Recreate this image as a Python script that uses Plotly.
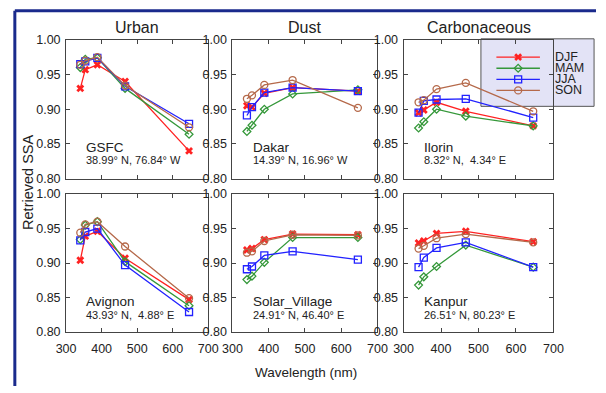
import plotly.graph_objects as go

# ---------------- data ----------------
WAVELENGTH = [340, 354, 388, 466, 646]
SEASONS = ["DJF", "MAM", "JJA", "SON"]
TYPES = ["Urban", "Dust", "Carbonaceous"]

GSFC = {"DJF": [0.930, 0.957, 0.964, 0.940, 0.840],
        "MAM": [0.960, 0.972, 0.974, 0.930, 0.864],
        "JJA": [0.965, 0.969, 0.974, 0.933, 0.879],
        "SON": [0.964, 0.970, 0.975, 0.934, 0.874]}
AVIGNON = {"DJF": [0.904, 0.939, 0.946, 0.907, 0.847],
           "MAM": [0.934, 0.955, 0.960, 0.902, 0.838],
           "JJA": [0.933, 0.945, 0.950, 0.897, 0.829],
           "SON": [0.944, 0.956, 0.960, 0.924, 0.849]}
DAKAR = {"DJF": [0.905, 0.903, 0.923, 0.931, 0.926],
         "MAM": [0.868, 0.877, 0.900, 0.922, 0.928],
         "JJA": [0.891, 0.903, 0.924, 0.931, 0.926],
         "SON": [0.915, 0.920, 0.935, 0.942, 0.902]}
SOLAR_VILLAGE = {"DJF": [0.919, 0.921, 0.934, 0.942, 0.941],
                 "MAM": [0.876, 0.881, 0.901, 0.937, 0.937],
                 "JJA": [0.891, 0.895, 0.911, 0.917, 0.905],
                 "SON": [0.915, 0.917, 0.932, 0.941, 0.940]}
ILORIN = {"DJF": [0.895, 0.899, 0.910, 0.897, 0.876],
          "MAM": [0.873, 0.882, 0.900, 0.890, 0.876],
          "JJA": [0.895, 0.912, 0.914, 0.915, 0.888],
          "SON": [0.910, 0.913, 0.929, 0.938, 0.897]}
KANPUR = {"DJF": [0.929, 0.932, 0.943, 0.946, 0.931],
          "MAM": [0.868, 0.880, 0.895, 0.926, 0.894],
          "JJA": [0.894, 0.908, 0.922, 0.930, 0.894],
          "SON": [0.921, 0.925, 0.936, 0.942, 0.930]}

SITE_NAMES = [["GSFC", "Dakar", "Ilorin"], ["Avignon", "Solar_Village", "Kanpur"]]
SITE_COORDS = [["38.99° N, 76.84° W", "14.39° N, 16.96° W", "8.32° N,\u00a0 4.34° E"],
               ["43.93° N,\u00a0 4.88° E", "24.91° N, 46.40° E", "26.51° N, 80.23° E"]]
SITE_DATA = [[GSFC, DAKAR, ILORIN], [AVIGNON, SOLAR_VILLAGE, KANPUR]]

X_TICKS = [300, 400, 500, 600, 700]
Y_TICKS = [0.80, 0.85, 0.90, 0.95, 1.00]

# ---------------- style ----------------
W, H = 606, 393
COLORS = {"DJF": "#ff2222", "MAM": "#35983a", "JJA": "#2222ff", "SON": "#b5694a"}
SYMBOLS = {"DJF": "x", "MAM": "diamond-open", "JJA": "square-open", "SON": "circle-open"}
SIZES = {"DJF": 7, "MAM": 6, "JJA": 7, "SON": 7}
FONT = "Liberation Sans, Arial, Helvetica, sans-serif"
AXC = "#444444"

COLS = [(58, 205), (230, 380), (407, 562)]
ROWS = [(34, 178), (194, 337)]


def px(x):
    return x / W


def py(y):
    return 1 - y / H


fig = go.Figure()
layout = dict(width=W, height=H, margin=dict(l=0, r=0, t=0, b=0),
              paper_bgcolor="white", plot_bgcolor="rgba(0,0,0,0)",
              showlegend=False, font=dict(family=FONT, color="#222"))
annotations = []
shapes = []

idx = 0
for r, (y0, y1) in enumerate(ROWS):
    for c, (x0, x1) in enumerate(COLS):
        idx += 1
        xa = "xaxis" if idx == 1 else f"xaxis{idx}"
        ya = "yaxis" if idx == 1 else f"yaxis{idx}"
        xr = "x" if idx == 1 else f"x{idx}"
        yr = "y" if idx == 1 else f"y{idx}"
        layout[xa] = dict(domain=[px(x0), px(x1)], range=[300, 700], tickvals=X_TICKS,
                          ticks="inside", ticklen=4, tickcolor=AXC, showline=True,
                          linecolor=AXC, linewidth=1, mirror="ticks", showgrid=False,
                          zeroline=False, anchor=yr, showticklabels=(r == 1),
                          tickfont=dict(size=12.5, color="#222"), ticklabelstandoff=5)
        layout[ya] = dict(domain=[py(y1), py(y0)], range=[0.80, 1.00], tickvals=Y_TICKS,
                          tickformat=".2f", ticks="inside", ticklen=4, tickcolor=AXC,
                          showline=True, linecolor=AXC, linewidth=1, mirror="ticks",
                          showgrid=False, zeroline=False, anchor=xr,
                          tickfont=dict(size=12.5, color="#222"), ticklabelstandoff=2)
        data = SITE_DATA[r][c]
        for s in SEASONS:
            fig.add_trace(go.Scatter(
                x=WAVELENGTH, y=data[s], xaxis=xr, yaxis=yr, mode="lines+markers",
                line=dict(color=COLORS[s], width=1.3),
                marker=dict(symbol=SYMBOLS[s], size=SIZES[s], color=COLORS[s],
                            line=dict(color=COLORS[s], width=1.3 if s != "DJF" else 0)),
                cliponaxis=False, name=s))
        annotations.append(dict(xref="paper", yref="paper", x=px(x0 + 19), y=py(y0 + 111.5),
                                text=SITE_NAMES[r][c], showarrow=False, xanchor="left",
                                yanchor="middle", font=dict(size=13.5, color="#222")))
        annotations.append(dict(xref="paper", yref="paper", x=px(x0 + 19), y=py(y0 + 125),
                                text=SITE_COORDS[r][c], showarrow=False, xanchor="left",
                                yanchor="middle", font=dict(size=11, color="#222")))

# column titles
for c, (x0, x1) in enumerate(COLS):
    annotations.append(dict(xref="paper", yref="paper", x=px((x0 + x1) / 2), y=py(21),
                            text=TYPES[c], showarrow=False, xanchor="center", yanchor="middle",
                            font=dict(size=16, color="#222")))

# axis titles
annotations.append(dict(xref="paper", yref="paper", x=px(306), y=py(379), text="Wavelength (nm)",
                        showarrow=False, xanchor="center", yanchor="middle",
                        font=dict(size=13.5, color="#222")))
annotations.append(dict(xref="paper", yref="paper", x=px(18), y=py(182), text="Retrieved SSA",
                        showarrow=False, xanchor="center", yanchor="middle", textangle=-90,
                        font=dict(size=14.5, color="#222")))

# legend box (pixel-space helper axes)
LX0, LX1, LY0, LY1 = 487, 604, 33, 103
shapes.append(dict(type="rect", xref="paper", yref="paper", x0=px(LX0), x1=px(LX1),
                   y0=py(LY1), y1=py(LY0), fillcolor="#e3e3f6",
                   line=dict(color="#555", width=1), layer="below"))
layout["xaxis7"] = dict(domain=[px(LX0), px(LX1)], range=[LX0, LX1], visible=False,
                        anchor="y7", fixedrange=True)
layout["yaxis7"] = dict(domain=[py(LY1), py(LY0)], range=[LY1, LY0], visible=False,
                        anchor="x7", fixedrange=True)
LEG_ROWS = [52, 63.5, 75, 86.5]
for s, ly in zip(SEASONS, LEG_ROWS):
    fig.add_trace(go.Scatter(x=[503, 548], y=[ly, ly], xaxis="x7", yaxis="y7", mode="lines",
                             line=dict(color=COLORS[s], width=1.3), cliponaxis=False))
    fig.add_trace(go.Scatter(x=[525.5], y=[ly], xaxis="x7", yaxis="y7", mode="markers",
                             marker=dict(symbol=SYMBOLS[s], size=SIZES[s], color=COLORS[s],
                                         line=dict(color=COLORS[s],
                                                   width=1.3 if s != "DJF" else 0)),
                             cliponaxis=False))
    annotations.append(dict(xref="paper", yref="paper", x=px(562), y=py(ly), text=s,
                            showarrow=False, xanchor="left", yanchor="middle",
                            font=dict(size=12.5, color="#222")))

# image frame (navy border at left and top)
shapes.append(dict(type="line", xref="paper", yref="paper", x0=px(5), x1=px(5), y0=0, y1=py(4),
                   line=dict(color="#1a2a8c", width=3)))
shapes.append(dict(type="line", xref="paper", yref="paper", x0=px(5), x1=1, y0=py(4), y1=py(4),
                   line=dict(color="#1a2a8c", width=3)))

layout["annotations"] = annotations
layout["shapes"] = shapes
fig.update_layout(**layout)
fig.write_html("out.html")
